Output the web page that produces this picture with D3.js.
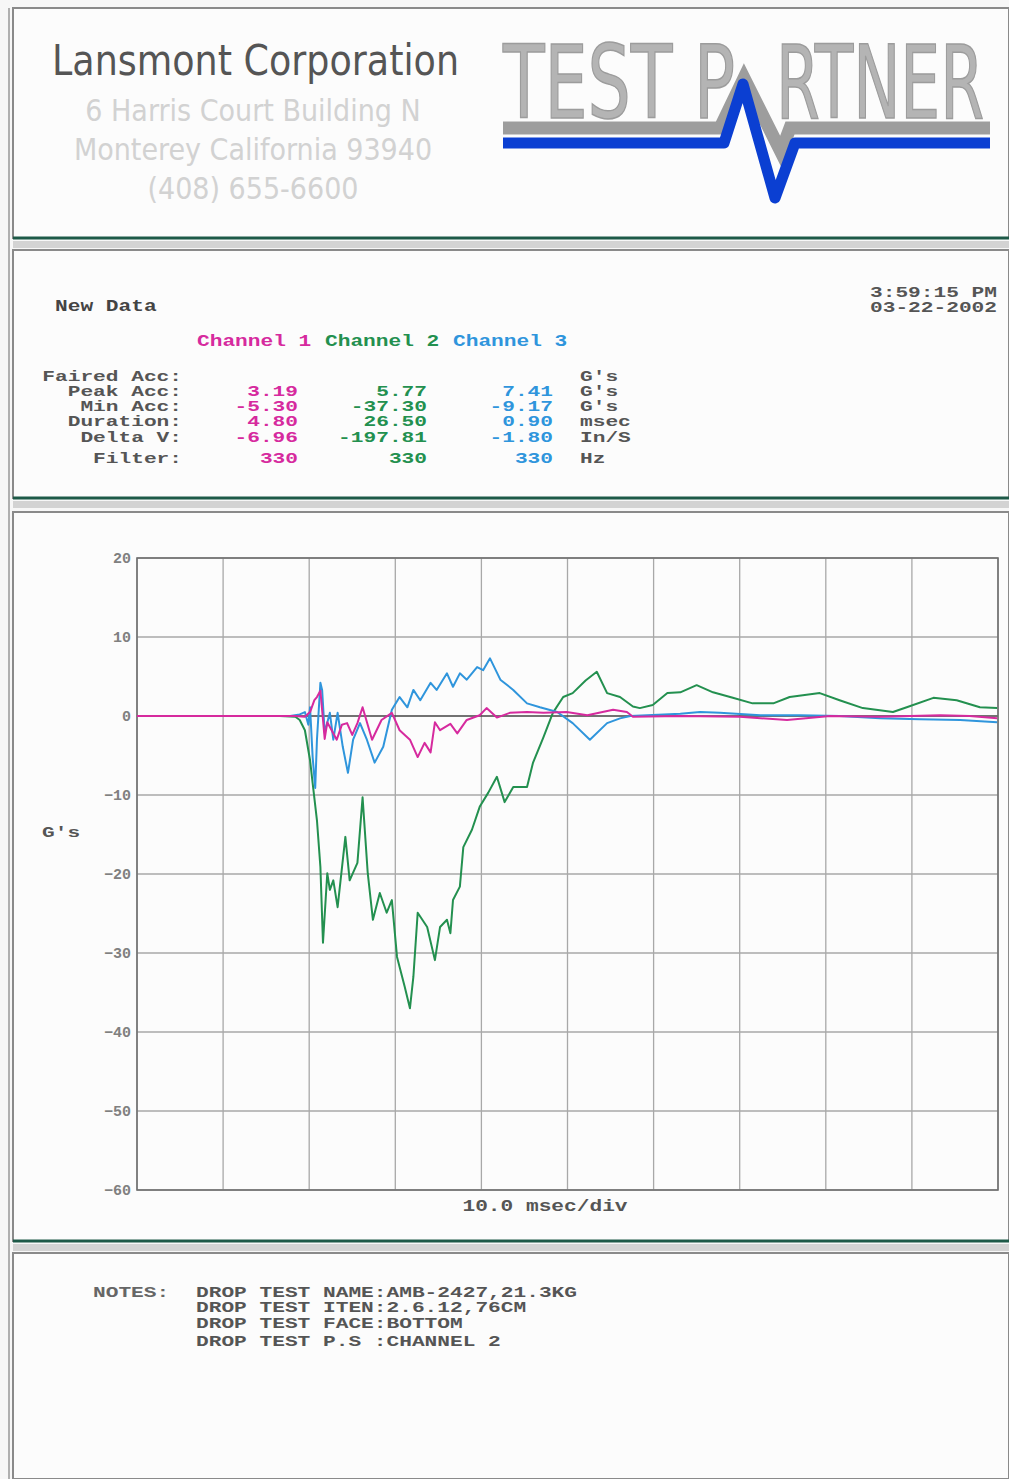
<!DOCTYPE html>
<html>
<head>
  <meta charset="UTF-8">
  <style>
    body { margin: 0; background: #f7f7f7; }
    svg { display: block; }
    .mono { font-family: "Liberation Mono", "DejaVu Sans Mono", monospace; font-weight: bold; }
  </style>
</head>
<body>
<svg></svg>
<script src="https://d3js.org/d3.v7.min.js"></script>
<script>

let width = 1009, height = 1479;

// ---- data ----
const channels = ["Channel 1", "Channel 2", "Channel 3"];
const channelColors = ["#d62a9e", "#23904f", "#2f95dc"];
const rowLabels = ["Faired Acc:", "Peak Acc:", "Min Acc:", "Duration:", "Delta V:", "Filter:"];
const rowUnits = ["G's", "G's", "G's", "msec", "In/S", "Hz"];
const ch1Values = ["", "3.19", "-5.30", "4.80", "-6.96", "330"];
const ch2Values = ["", "5.77", "-37.30", "26.50", "-197.81", "330"];
const ch3Values = ["", "7.41", "-9.17", "0.90", "-1.80", "330"];
const notes = ["DROP TEST NAME:AMB-2427,21.3KG", "DROP TEST ITEN:2.6.12,76CM", "DROP TEST FACE:BOTTOM", "DROP TEST P.S :CHANNEL 2"];
const yTicks = [20, 10, 0, -10, -20, -30, -40, -50, -60];
const xTicks = [0, 10, 20, 30, 40, 50, 60, 70, 80, 90, 100];

// time in msec, acceleration in G's
const ch2Time = [0, 16.6, 18.4, 18.9, 19.5, 20.1, 20.4, 20.9, 21.3, 21.6, 22.1, 22.4, 22.8, 23.3, 24.2, 24.7, 25.6, 26.2, 26.8, 27.4, 28.2, 29.0, 29.6, 30.2, 31.1, 31.7, 32.1, 32.6, 33.7, 34.6, 35.2, 36.0, 36.4, 36.7, 37.5, 37.9, 38.9, 39.8, 40.8, 41.8, 42.7, 43.7, 45.3, 46.0, 47.2, 48.3, 49.5, 50.6, 52.1, 53.4, 54.6, 56.1, 57.6, 58.4, 59.9, 61.6, 63.1, 65.0, 66.9, 69.2, 71.5, 73.9, 75.8, 79.3, 81.6, 84.3, 87.8, 89.4, 92.5, 95.2, 97.9, 99.9];
const ch2G = [0, 0, -0.1, -0.5, -1.8, -5.6, -8.5, -13.2, -19.1, -28.7, -19.9, -22, -20.8, -24.2, -15.3, -20.8, -18.6, -10.3, -19.9, -25.8, -22.4, -24.9, -23.3, -30.5, -34.3, -37.0, -33, -24.9, -26.7, -30.9, -26.7, -25.8, -27.5, -23.3, -21.6, -16.6, -14.4, -11.5, -9.7, -7.7, -10.9, -9.0, -9.0, -5.9, -2.7, 0.4, 2.4, 2.9, 4.5, 5.6, 2.9, 2.4, 1.2, 1.0, 1.4, 2.9, 3.0, 3.9, 3.0, 2.3, 1.6, 1.6, 2.4, 2.9, 2.0, 1.0, 0.5, 1.1, 2.3, 2.0, 1.1, 1.0];

const ch3Time = [0, 17.8, 18.9, 19.5, 19.9, 20.1, 20.4, 20.7, 20.9, 21.3, 21.5, 21.8, 22.4, 22.8, 23.3, 23.9, 24.5, 25.1, 25.9, 26.7, 27.6, 28.6, 29.6, 30.5, 31.4, 32.1, 32.9, 34.1, 34.8, 36.0, 36.7, 37.5, 38.3, 39.5, 40.2, 41.0, 42.2, 43.7, 45.3, 46.8, 48.8, 50.6, 52.6, 54.6, 56.1, 57.3, 63.1, 65.4, 67.7, 72.4, 77.0, 81.6, 86.3, 90.9, 95.6, 99.9];
const ch3G = [0, 0, 0.2, 0.5, -1.1, 1.1, -5.2, -9.1, -3, 4.2, 3.3, -2.1, 0.4, -3, 0.4, -3.9, -7.2, -3, -0.9, -3, -5.9, -3.9, 0.8, 2.4, 1.1, 3.3, 2.0, 4.2, 3.3, 5.4, 3.7, 5.4, 4.6, 6.2, 5.8, 7.3, 4.6, 3.3, 1.6, 1.1, 0.5, -0.9, -3.0, -0.9, -0.3, 0, 0.3, 0.5, 0.4, 0.1, 0.1, 0, -0.3, -0.4, -0.5, -0.8];

const ch1Time = [0, 18.4, 19.5, 20.1, 20.6, 20.9, 21.3, 21.8, 22.1, 22.4, 23.2, 23.8, 24.4, 25.0, 25.6, 26.2, 27.3, 28.4, 29.6, 30.5, 31.7, 32.6, 33.4, 34.1, 34.6, 35.2, 36.4, 37.2, 38.3, 39.8, 40.6, 41.8, 43.3, 45.3, 47.2, 49.9, 52.3, 55.3, 56.9, 57.6, 63.1, 70.0, 75.5, 80.5, 86.3, 93.3, 96.7, 99.9];
const ch1G = [0, 0, -0.1, 0.5, 2.0, 2.4, 3.2, -2.9, -0.8, -1.4, -3.0, -1.1, -0.9, -2.4, -0.9, 1.1, -3.0, -0.5, 0.4, -1.8, -3.0, -5.2, -3.4, -4.6, -0.8, -1.8, -1.0, -2.2, -0.5, 0.1, 1.0, -0.2, 0.4, 0.5, 0.4, 0.5, 0.1, 0.8, 0.5, -0.1, 0, -0.1, -0.5, 0, -0.1, 0.1, 0, -0.3];

let svg = d3.select("svg")
    .attr("width", width)
    .attr("height", height)

// mono text in the printer font: 12.7 px per character
function mono(sel, size) {
    sel.attr("class", "mono")
        .style("font-size", size + "px")
        .attr("lengthAdjust", "spacingAndGlyphs")
        .attr("textLength", function() { return this.textContent.length * 12.7; })
}

// ---- panels ----
const panels = [[8, 238], [250, 498], [512, 1241], [1253, 1479]];
panels.forEach(p => {
    svg.append("rect")
        .attr("x", 13).attr("y", p[0])
        .attr("width", width - 13).attr("height", p[1] - p[0])
        .attr("fill", "#fcfcfc")
        .attr("stroke", "#8a8a8a")
        .attr("stroke-width", 2)
    if (p[1] < height) {
        svg.append("line")
            .attr("x1", 13).attr("x2", width)
            .attr("y1", p[1]).attr("y2", p[1])
            .attr("stroke", "#1e5a48")
            .attr("stroke-width", 3)
        svg.append("rect")
            .attr("x", 13).attr("y", p[1] + 3)
            .attr("width", width - 13).attr("height", 7)
            .attr("fill", "#d3d3d3")
    }
})
svg.append("line")
    .attr("x1", 9).attr("x2", 9).attr("y1", 8).attr("y2", height)
    .attr("stroke", "#b0b0b0").attr("stroke-width", 2)

// ---- header ----
svg.append("text")
    .attr("x", 52).attr("y", 75)
    .style("font-family", "'Liberation Sans Narrow', 'DejaVu Sans Condensed', 'Liberation Sans', sans-serif")
    .style("font-size", "42px")
    .attr("textLength", 407).attr("lengthAdjust", "spacingAndGlyphs")
    .attr("fill", "#555")
    .text("Lansmont Corporation")

const address = ["6 Harris Court Building N", "Monterey California 93940", "(408) 655-6600"];
svg.selectAll(".addr")
    .data(address)
    .enter()
    .append("text")
    .attr("x", 253)
    .attr("y", (d, i) => 121 + i * 39)
    .attr("text-anchor", "middle")
    .style("font-family", "'Liberation Sans Narrow', 'DejaVu Sans Condensed', sans-serif")
    .style("font-size", "30px")
    .attr("fill", "#d2d2d2")
    .text(d => d)

// logo: one word, the A is drawn by the spike
const logoFont = "'Liberation Sans Narrow', 'DejaVu Sans Condensed', 'Liberation Sans', sans-serif";
let logo = svg.append("text")
    .attr("y", 118)
    .style("font-family", logoFont).style("font-size", "102px")
    .attr("fill", "#b4b4b4").attr("stroke", "#9c9c9c").attr("stroke-width", 1.5)
logo.append("tspan")
    .attr("x", 503)
    .attr("textLength", 232).attr("lengthAdjust", "spacingAndGlyphs")
    .text("TEST P")
logo.append("tspan")
    .attr("x", 776)
    .attr("textLength", 208).attr("lengthAdjust", "spacingAndGlyphs")
    .text("RTNER")

let logoLine = d3.line();
svg.append("path")
    .attr("d", logoLine([[503, 128], [720, 128], [744, 78], [781, 152], [790, 128], [990, 128]]))
    .attr("fill", "none").attr("stroke", "#9d9d9d").attr("stroke-width", 13)
    .attr("stroke-linejoin", "miter")
svg.append("path")
    .attr("d", logoLine([[503, 143], [724, 143], [743, 84], [775, 198], [795, 143], [990, 143]]))
    .attr("fill", "none").attr("stroke", "#0b3fd2").attr("stroke-width", 11)
    .attr("stroke-linejoin", "round")

// ---- data panel ----
svg.append("text")
    .attr("x", 55).attr("y", 311)
    .attr("fill", "#444")
    .text("New Data")
    .call(mono, 17)

svg.selectAll(".stamp")
    .data(["3:59:15 PM", "03-22-2002"])
    .enter()
    .append("text")
    .attr("x", 997).attr("y", (d, i) => 297 + i * 15)
    .attr("text-anchor", "end")
    .attr("fill", "#555")
    .text(d => d)
    .call(mono, 15)

svg.selectAll(".chan")
    .data(channels)
    .enter()
    .append("text")
    .attr("x", (d, i) => 197 + i * 128)
    .attr("y", 346)
    .attr("fill", (d, i) => channelColors[i])
    .text(d => d)
    .call(mono, 17)

const rowY = [381, 396, 411, 426, 442, 463];
svg.selectAll(".rowlab")
    .data(rowLabels)
    .enter()
    .append("text")
    .attr("x", 182).attr("y", (d, i) => rowY[i])
    .attr("text-anchor", "end")
    .attr("fill", "#555")
    .text(d => d)
    .call(mono, 15)

svg.selectAll(".unit")
    .data(rowUnits)
    .enter()
    .append("text")
    .attr("x", 580).attr("y", (d, i) => rowY[i])
    .attr("fill", "#555")
    .text(d => d)
    .call(mono, 15)

const valueCols = [ch1Values, ch2Values, ch3Values];
const valueRight = [298, 427, 553];
valueCols.forEach((vals, c) => {
    svg.selectAll(".val" + c)
        .data(vals.filter(v => v !== ""))
        .enter()
        .append("text")
        .attr("x", valueRight[c]).attr("y", (d, i) => rowY[i + 1])
        .attr("text-anchor", "end")
        .attr("fill", channelColors[c])
        .text(d => d)
        .call(mono, 15)
})

// ---- chart ----
const plot = { left: 137, right: 998, top: 558, bottom: 1190 };
let x = d3.scaleLinear().domain([0, 100]).range([plot.left, plot.right]);
let y = d3.scaleLinear().domain([-60, 20]).range([plot.bottom, plot.top]);

let grid = svg.append("g");
grid.selectAll(".vg")
    .data(xTicks)
    .enter()
    .append("line")
    .attr("x1", d => x(d)).attr("x2", d => x(d))
    .attr("y1", plot.top).attr("y2", plot.bottom)
    .attr("stroke", "#a8a8a8").attr("stroke-width", 1.3)
grid.selectAll(".hg")
    .data(yTicks)
    .enter()
    .append("line")
    .attr("x1", plot.left).attr("x2", plot.right)
    .attr("y1", d => y(d)).attr("y2", d => y(d))
    .attr("stroke", d => d === 0 ? "#444" : "#a8a8a8")
    .attr("stroke-width", d => d === 0 ? 1.6 : 1.3)

svg.append("rect")
    .attr("x", plot.left).attr("y", plot.top)
    .attr("width", plot.right - plot.left).attr("height", plot.bottom - plot.top)
    .attr("fill", "none").attr("stroke", "#707070").attr("stroke-width", 1.6)

let yAxis = d3.axisLeft(y).tickValues(yTicks).tickSize(0).tickPadding(6);
let yg = svg.append("g")
    .attr("transform", "translate(" + plot.left + ",0)")
    .call(yAxis)
yg.select(".domain").remove()
yg.selectAll("text")
    .attr("class", "mono")
    .style("font-size", "15px")
    .attr("fill", "#808080")

svg.append("text")
    .attr("x", 42).attr("y", 837)
    .attr("fill", "#555")
    .text("G's")
    .call(mono, 15)

svg.append("text")
    .attr("x", 545).attr("y", 1211)
    .attr("text-anchor", "middle")
    .attr("fill", "#555")
    .text("10.0 msec/div")
    .call(mono, 17)

let trace = d3.line()
    .x(d => x(d[0]))
    .y(d => y(d[1]));

const series = [
    { t: ch2Time, g: ch2G, color: channelColors[1] },
    { t: ch3Time, g: ch3G, color: channelColors[2] },
    { t: ch1Time, g: ch1G, color: channelColors[0] }
];
series.forEach(s => {
    svg.append("path")
        .datum(s.t.map((t, i) => [t, s.g[i]]))
        .attr("d", trace)
        .attr("fill", "none")
        .attr("stroke", s.color)
        .attr("stroke-width", 2)
        .attr("stroke-linejoin", "round")
})

// ---- notes ----
svg.append("text")
    .attr("x", 93).attr("y", 1297)
    .attr("fill", "#666")
    .text("NOTES:")
    .call(mono, 15)

const noteY = [1297, 1312, 1328, 1346];
svg.selectAll(".note")
    .data(notes)
    .enter()
    .append("text")
    .attr("x", 196).attr("y", (d, i) => noteY[i])
    .attr("fill", "#555")
    .text(d => d)
    .call(mono, 15)

</script>
</body>
</html>
